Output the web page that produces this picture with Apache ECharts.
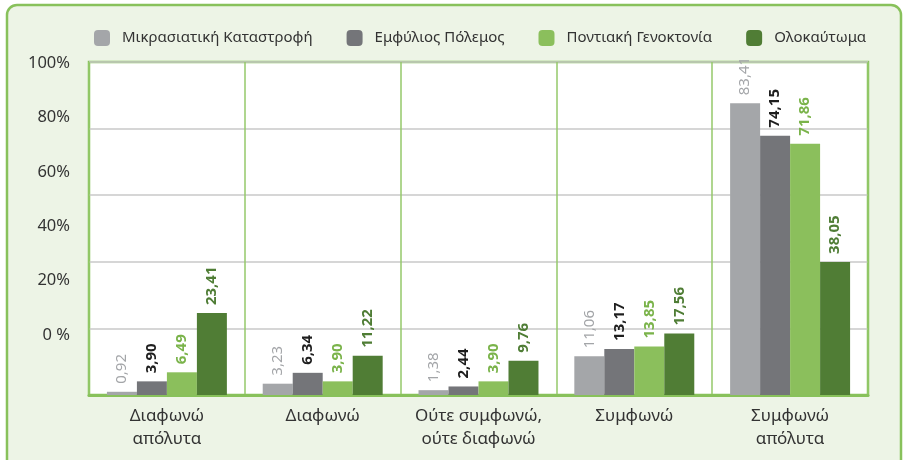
<!DOCTYPE html>
<html lang="el">
<head>
    <meta charset="UTF-8">
    <title>Συμφωνία ανά γεγονός</title>
    <script type="text/javascript" src="https://cdn.jsdelivr.net/npm/echarts@6/dist/echarts.min.js"></script>
    <style>
        html, body { margin: 0; padding: 0; background: #fff; }
    </style>
</head>
<body>
<div id="chart" style="width: 904px;height:460px;"></div>
<script>
    var categories = ['Διαφωνώ\nαπόλυτα', 'Διαφωνώ', 'Ούτε συμφωνώ,\nούτε διαφωνώ', 'Συμφωνώ', 'Συμφωνώ\nαπόλυτα'];
    var seriesNames = ['Μικρασιατική Καταστροφή', 'Εμφύλιος Πόλεμος', 'Ποντιακή Γενοκτονία', 'Ολοκαύτωμα'];
    var mikrasiatiki = [0.92, 3.23, 1.38, 11.06, 83.41];
    var emfylios = [3.90, 6.34, 2.44, 13.17, 74.15];
    var pontiaki = [6.49, 3.90, 3.90, 13.85, 71.86];
    var olokaftoma = [23.41, 11.22, 9.76, 17.56, 38.05];
    var tickLabels = [0, 20, 40, 60, 80, 100];

    var barColors = ['#a4a6a9', '#747579', '#8bbf5c', '#507d35'];
    var labelColors = ['#a3a5a8', '#1e1e1e', '#7ab34a', '#4f7d35'];
    var labelWeights = ['normal', 'bold', 'bold', 'bold'];
    var values = [mikrasiatiki, emfylios, pontiaki, olokaftoma];
    var FONT = 'Noto Sans';

    var series = values.map(function (vals, i) {
        return {
            name: seriesNames[i],
            type: 'bar',
            xAxisIndex: 0,
            yAxisIndex: 0,
            barGap: '0%',
            barCategoryGap: '23%',
            itemStyle: { color: barColors[i] },
            label: {
                show: true,
                position: 'top',
                rotate: 90,
                align: 'left',
                verticalAlign: 'middle',
                distance: 8,
                fontFamily: FONT,
                fontSize: 15,
                fontWeight: labelWeights[i],
                color: labelColors[i],
                formatter: function (p) {
                    return p.value.toFixed(2).replace('.', ',');
                }
            },
            data: vals
        };
    });

    var option = {
        animation: false,
        backgroundColor: '#ffffff',
        textStyle: { fontFamily: FONT },
        graphic: [{
            type: 'rect',
            z: -10,
            silent: true,
            shape: { x: 7, y: 5, width: 894, height: 470, r: 10 },
            style: { fill: '#edf4e6', stroke: '#88c15b', lineWidth: 2.5 }
        }],
        legend: {
            top: 25,
            left: 89,
            itemWidth: 16,
            itemHeight: 16,
            itemGap: 34,
            icon: 'roundRect',
            textStyle: { fontFamily: FONT, fontSize: 15, color: '#333', padding: [0, 0, 0, 7] },
            data: seriesNames
        },
        grid: [{
            left: 89, right: 36, top: 62, bottom: 65,
            show: true,
            backgroundColor: '#ffffff',
            borderColor: '#88c15b',
            borderWidth: 2.5
        }, {
            left: 89, right: 36, top: 63, bottom: 125
        }],
        xAxis: [{
            type: 'category',
            gridIndex: 0,
            data: categories,
            axisTick: { show: false },
            axisLine: { lineStyle: { color: '#88c15b', width: 3 } },
            splitLine: { show: true, interval: 0, lineStyle: { color: '#95c86a', width: 1.5 } },
            axisLabel: {
                interval: 0,
                margin: 10,
                fontFamily: FONT,
                fontSize: 17,
                lineHeight: 23,
                color: '#333'
            }
        }, {
            type: 'category',
            gridIndex: 1,
            data: categories,
            show: false
        }],
        yAxis: [{
            type: 'value',
            gridIndex: 0,
            min: 0,
            max: 95.2,
            interval: 19.04,
            axisLine: { show: false },
            axisTick: { show: false },
            axisLabel: { show: false },
            splitLine: { lineStyle: { color: '#c9c9c9', width: 1.5 } }
        }, {
            type: 'value',
            gridIndex: 1,
            min: tickLabels[0],
            max: tickLabels[tickLabels.length - 1],
            interval: 20,
            axisLine: { show: false },
            axisTick: { show: false },
            splitLine: { show: false },
            axisLabel: {
                margin: 19,
                fontFamily: FONT,
                fontSize: 16.5,
                color: '#333',
                formatter: function (v) {
                    return v === 0 ? '0 %' : v + '%';
                }
            }
        }],
        series: series
    };

    var myChart = echarts.init(document.getElementById('chart'));
    myChart.setOption(option);
</script>
</body>
</html>
